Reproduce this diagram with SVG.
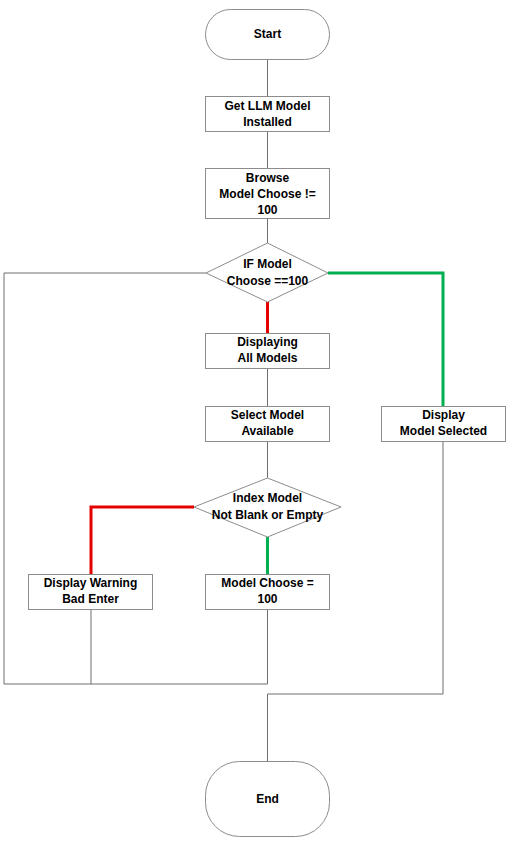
<svg xmlns="http://www.w3.org/2000/svg" width="510" height="844" viewBox="0 0 510 844">
<style>
.s{fill:#fff;stroke:#8c8c8c;stroke-width:1}
.t{font-family:"Liberation Sans",Arial,sans-serif;font-weight:bold;font-size:12px;fill:#000;text-anchor:middle}
.c{fill:none;stroke:#6e6e6e;stroke-width:1}
.r{fill:none;stroke:#e50000;stroke-width:3}
.g{fill:none;stroke:#00b050;stroke-width:3}
</style>
<rect width="510" height="844" fill="#fff"/>
<g id="connectors">
<path class="c" d="M267.5 59V96M267.5 132V168M267.5 218V243M267.5 368V406M267.5 442V478"/>
<path class="c" d="M206 273H4V684H267.5V609M91 609V684"/>
<path class="c" d="M443 442V694H267.5V761"/>
<path class="r" d="M267.5 302V333"/>
<path class="g" d="M328 273H443V406"/>
<path class="r" d="M194 507H91V574"/>
<path class="g" d="M267.5 537V574"/>
</g>
<g id="start"><rect class="s" x="205.5" y="9.5" width="124" height="50" rx="25" ry="25"/><text class="t" x="267.5" y="38">Start</text></g>
<g id="get-llm"><rect class="s" x="205.5" y="96.5" width="124" height="35"/><text class="t" x="267.5" y="110">Get LLM Model</text><text class="t" x="267.5" y="126">Installed</text></g>
<g id="browse"><rect class="s" x="205.5" y="168.5" width="124" height="50"/><text class="t" x="267.5" y="182">Browse</text><text class="t" x="267.5" y="198">Model Choose !=</text><text class="t" x="267.5" y="214">100</text></g>
<g id="if-model"><polygon class="s" points="267.5,243 328,273 267.5,302 206,273"/><text class="t" x="267.5" y="268">IF Model</text><text class="t" x="267.5" y="285">Choose ==100</text></g>
<g id="displaying"><rect class="s" x="205.5" y="333.5" width="124" height="35"/><text class="t" x="267.5" y="346">Displaying</text><text class="t" x="267.5" y="362">All Models</text></g>
<g id="select"><rect class="s" x="205.5" y="406.5" width="124" height="35"/><text class="t" x="267.5" y="419">Select Model</text><text class="t" x="267.5" y="435">Available</text></g>
<g id="display-selected"><rect class="s" x="381.5" y="406.5" width="124" height="35"/><text class="t" x="443.5" y="419">Display</text><text class="t" x="443.5" y="435">Model Selected</text></g>
<g id="index"><polygon class="s" points="267.5,478 341,507 267.5,537 194,507"/><text class="t" x="267.5" y="502">Index Model</text><text class="t" x="267.5" y="519">Not Blank or Empty</text></g>
<g id="warning"><rect class="s" x="28.5" y="574.5" width="124" height="35"/><text class="t" x="90.5" y="587">Display Warning</text><text class="t" x="90.5" y="603">Bad Enter</text></g>
<g id="model-choose"><rect class="s" x="205.5" y="574.5" width="124" height="35"/><text class="t" x="267.5" y="587">Model Choose =</text><text class="t" x="267.5" y="603">100</text></g>
<g id="end"><rect class="s" x="205.5" y="761.5" width="124" height="75" rx="34" ry="34"/><text class="t" x="267.5" y="803">End</text></g>
</svg>
